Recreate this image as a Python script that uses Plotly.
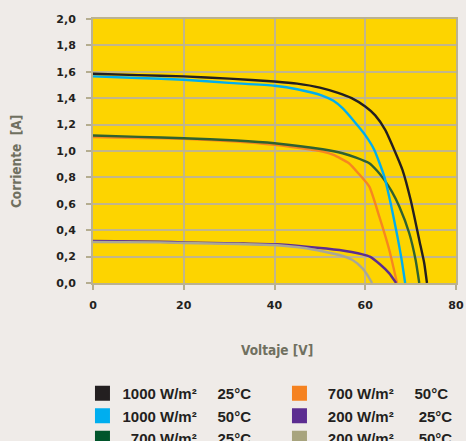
import plotly.graph_objects as go

# ---- data ----
v_1000_25 = [0, 10, 20, 30, 40, 45, 50, 54, 57, 60, 62.2, 64.4, 66.4, 68.2, 70.0, 71.9, 73.0, 73.6]
i_1000_25 = [1.585, 1.575, 1.565, 1.548, 1.526, 1.51, 1.48, 1.44, 1.40, 1.337, 1.27, 1.16, 1.008, 0.857, 0.63, 0.326, 0.15, 0.0]

v_1000_50 = [0, 10, 20, 30, 40, 45, 50.5, 53, 55, 57.9, 60, 62.0, 64.2, 65.6, 67.1, 68.0, 68.8]
i_1000_50 = [1.565, 1.553, 1.54, 1.516, 1.494, 1.468, 1.42, 1.38, 1.324, 1.21, 1.12, 1.008, 0.806, 0.604, 0.351, 0.18, 0.0]

v_700_25 = [0, 10, 20, 31.6, 40, 50.6, 55, 58, 60.9, 62.6, 64.2, 65.9, 67.5, 69.7, 71.1, 71.9]
i_700_25 = [1.117, 1.107, 1.097, 1.08, 1.059, 1.013, 0.983, 0.95, 0.907, 0.85, 0.781, 0.69, 0.579, 0.377, 0.174, 0.0]

v_700_50 = [0, 10, 20, 31.6, 40, 48, 50.6, 53, 56.4, 58.5, 60.9, 63.1, 65.3, 67.0]
i_700_50 = [1.105, 1.098, 1.092, 1.071, 1.046, 1.01, 0.996, 0.97, 0.907, 0.83, 0.73, 0.503, 0.25, 0.0]

v_200_25 = [0, 14.7, 20, 32, 40, 47, 54.3, 57, 59.4, 61, 63.3, 65.3, 66.8]
i_200_25 = [0.318, 0.313, 0.308, 0.30, 0.293, 0.275, 0.25, 0.235, 0.217, 0.2, 0.14, 0.073, 0.0]

v_200_50 = [0, 14.7, 20, 32, 40, 47, 54.3, 57.2, 59.4, 60.5, 61.5]
i_200_50 = [0.311, 0.308, 0.303, 0.295, 0.288, 0.263, 0.212, 0.174, 0.111, 0.06, 0.0]

x_ticks = [0, 20, 40, 60, 80]
y_ticks = [0.0, 0.2, 0.4, 0.6, 0.8, 1.0, 1.2, 1.4, 1.6, 1.8, 2.0]

NB = "\u00a0"
labels = {
    "1000_25": "1000 W/m²" + NB * 5 + "25°C",
    "1000_50": "1000 W/m²" + NB * 5 + "50°C",
    "700_25": NB * 2 + "700 W/m²" + NB * 5 + "25°C",
    "700_50": NB * 2 + "700 W/m²" + NB * 5 + "50°C",
    "200_25": NB * 2 + "200 W/m²" + NB * 6 + "25°C",
    "200_50": NB * 2 + "200 W/m²" + NB * 6 + "50°C",
}
line_colors = {
    "1000_25": "#231F20", "1000_50": "#00AEEF", "700_25": "#2F6130",
    "700_50": "#F7861F", "200_25": "#5C2D91", "200_50": "#A9A798",
}
legend_colors = {
    "1000_25": "#231F20", "1000_50": "#00AEEF", "700_25": "#00552B",
    "700_50": "#F58220", "200_25": "#5C2D91", "200_50": "#A8A47E",
}
series = {
    "1000_25": (v_1000_25, i_1000_25), "1000_50": (v_1000_50, i_1000_50),
    "700_25": (v_700_25, i_700_25), "700_50": (v_700_50, i_700_50),
    "200_25": (v_200_25, i_200_25), "200_50": (v_200_50, i_200_50),
}

fig = go.Figure()
for key in ["700_50", "700_25", "1000_50", "1000_25", "200_25", "200_50"]:
    vx, iy = series[key]
    fig.add_trace(go.Scatter(x=vx, y=iy, mode="lines", showlegend=False,
                             line=dict(color=line_colors[key], width=2.4, shape="spline", smoothing=0.5),
                             hoverinfo="skip"))
# legend entries (row-wise filling: col1 = 1000/25, 1000/50, 700/25 ; col2 = 700/50, 200/25, 200/50)
for key in ["1000_25", "700_50", "1000_50", "200_25", "700_25", "200_50"]:
    fig.add_trace(go.Scatter(x=[None], y=[None], mode="markers", name=labels[key],
                             marker=dict(symbol="square", size=15, color=legend_colors[key], line=dict(width=0))))

axis_common = dict(showgrid=True, gridcolor="#C2B68A", gridwidth=1.5, zeroline=False,
                   showline=True, linecolor="#BBB291", linewidth=2, mirror=True,
                   ticks="outside", ticklen=5, tickcolor="#B5AD90", tickwidth=1.5,
                   tickfont=dict(family="DejaVu Sans", size=11, color="#231F20", weight="bold"))

fig.update_xaxes(range=[0, 80], tickvals=x_ticks, ticklabelstandoff=6, **axis_common)
fig.update_yaxes(range=[0, 2], tickvals=y_ticks, tickformat=".1f", ticklabelstandoff=8, **axis_common)

title_font = dict(family="Liberation Sans Narrow, DejaVu Sans Condensed, DejaVu Sans", size=13.5,
                  color="#707060", weight="bold")
fig.update_layout(
    width=466, height=441,
    separators=",.",
    paper_bgcolor="#EFEBE8", plot_bgcolor="#FDD400",
    margin=dict(l=93, r=10, t=19, b=158, autoexpand=False),
    showlegend=True,
    legend=dict(orientation="h", x=-0.029, xanchor="left", y=-0.356, yanchor="top",
                entrywidth=152, entrywidthmode="pixels", traceorder="normal",
                font=dict(family="Liberation Sans", size=15, color="#231F20", weight="bold"),
                bgcolor="rgba(0,0,0,0)", borderwidth=0),
    annotations=[
        dict(text="Corriente  [A]", x=-0.2135, y=0.46, xref="paper", yref="paper",
             xanchor="center", yanchor="middle", textangle=-90, showarrow=False, font=title_font),
        dict(text="Voltaje [V]", x=0.507, y=-0.254, xref="paper", yref="paper",
             xanchor="center", yanchor="middle", showarrow=False, font=title_font),
    ],
)

fig.write_html("out.html", config={"displayModeBar": False},
               post_script="document.body.style.margin='0';document.body.style.overflow='hidden';")
